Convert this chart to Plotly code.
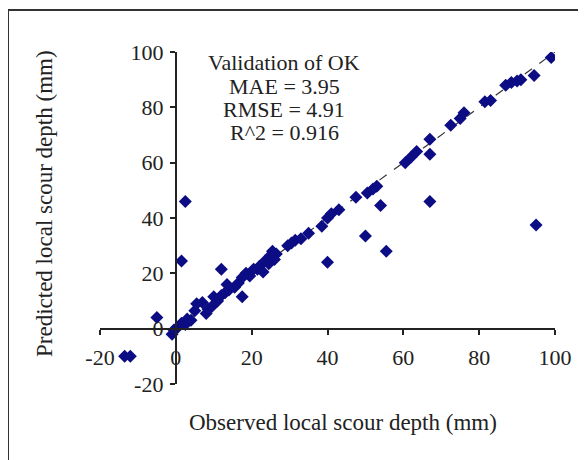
import plotly.graph_objects as go

observed = [-13.5, -12, -5, 2.5, 1.5, 12, 17.5, 40, 50, 54, 55.5, 67, 95, 67, 67,
            -1, -0.5, 0.5, 1.5, 2.5, 3, 4, 5, 5.5, 7, 8, 8.5, 9.5, 10, 11, 12, 13, 14,
            13.5, 15.5, 16.5, 17.5, 18.5, 19.5, 20.5, 21.5, 22, 23, 23.5, 24.5, 25, 25.5,
            26.5, 26, 29.5, 30.5, 31.5, 33, 35, 38.5, 40, 41, 43, 47.5, 50.5, 52, 53,
            60.5, 62, 63.5, 72.5, 75, 76, 81.5, 83, 87, 88.5, 90, 91, 94.5, 99]
predicted = [-10, -10, 4, 46, 24.5, 21.5, 11.5, 24, 33.5, 44.5, 28, 46, 37.5, 63, 68.5,
             -2, -0.5, 0.5, 2, 1.5, 3.5, 3, 6.5, 9, 9.5, 5.5, 7, 8, 11.5, 10, 12, 13, 14,
             16, 15, 16.5, 18.5, 20, 19, 21.5, 21.5, 22.5, 20.5, 24.5, 23.5, 26.5, 28,
             27, 25, 30, 31, 32, 32.5, 34.5, 37, 40, 41.5, 43, 47.5, 49, 50.5, 51.5,
             60, 62, 64, 73.5, 76, 78, 82, 82.5, 88, 89, 89.5, 90, 91.5, 98]

line_x = [0, 100]
line_y = [0, 100]

x_ticks = [-20, 0, 20, 40, 60, 80, 100]
x_tick_labels = ["-20", "0", "20", "40", "60", "80", "100"]
y_ticks = [-20, 0, 20, 40, 60, 80, 100]
y_tick_labels = ["-20", "0", "20", "40", "60", "80", "100"]

stats_lines = ["Validation of OK", "MAE = 3.95", "RMSE = 4.91", "R^2 = 0.916"]
x_title = "Observed local scour depth (mm)"
y_title = "Predicted local scour depth (mm)"

FONT = "Liberation Serif, Times New Roman, serif"
TXT = "#222222"
FS = 22
FT = 23

# plot area in the screenshot: x 100..555, y 52..384
def px_x(px):
    return (px - 100) / 455

def px_y(py):
    return (384 - py) / 332

fig = go.Figure()
fig.add_trace(go.Scatter(x=line_x, y=line_y, mode="lines",
                         line=dict(color="#333333", width=1.2, dash="dash"),
                         hoverinfo="skip", showlegend=False))
fig.add_trace(go.Scatter(x=observed, y=predicted, mode="markers",
                         marker=dict(symbol="diamond", size=10, color="#0c0c84",
                                     line=dict(width=0)),
                         showlegend=False))

fig.update_layout(
    width=586, height=460,
    margin=dict(l=92, r=39, t=44, b=84),
    paper_bgcolor="white", plot_bgcolor="white",
    font=dict(family=FONT, size=FS, color=TXT),
    xaxis=dict(range=[-20, 100], tickvals=x_ticks, ticktext=x_tick_labels,
               showgrid=False, zeroline=False,
               showline=True, linecolor="#222222", linewidth=2,
               ticks="outside", ticklen=5, tickcolor="#222222", tickwidth=1.5,
               anchor="free", position=1/6, ticklabelstandoff=4,
               tickfont=dict(family=FONT, size=FS, color=TXT)),
    yaxis=dict(range=[-20, 100], tickvals=y_ticks, ticktext=y_tick_labels,
               showgrid=False, zeroline=False,
               showline=True, linecolor="#222222", linewidth=2,
               ticks="outside", ticklen=5, tickcolor="#222222", tickwidth=1.5,
               anchor="free", position=1/6, ticklabelstandoff=2,
               tickfont=dict(family=FONT, size=FS, color=TXT)),
)

for line, py in zip(stats_lines, [62, 86, 109, 132]):
    fig.add_annotation(text=line, xref="paper", yref="paper", x=px_x(284), y=px_y(py),
                       xanchor="center", yanchor="middle", showarrow=False,
                       font=dict(family=FONT, size=FS, color=TXT))
fig.add_annotation(text=x_title, xref="paper", yref="paper",
                   x=px_x(343), y=px_y(423),
                   xanchor="center", yanchor="middle", showarrow=False,
                   font=dict(family=FONT, size=FT, color=TXT))
fig.add_annotation(text=y_title, xref="paper", yref="paper",
                   x=px_x(44), y=px_y(204), textangle=-90,
                   xanchor="center", yanchor="middle", showarrow=False,
                   font=dict(family=FONT, size=FT, color=TXT))

fig.add_shape(type="rect", xref="paper", yref="paper",
              x0=px_x(8), x1=px_x(582), y0=px_y(520), y1=px_y(10),
              line=dict(color="#333333", width=2), layer="below")

fig.write_html("out.html")
